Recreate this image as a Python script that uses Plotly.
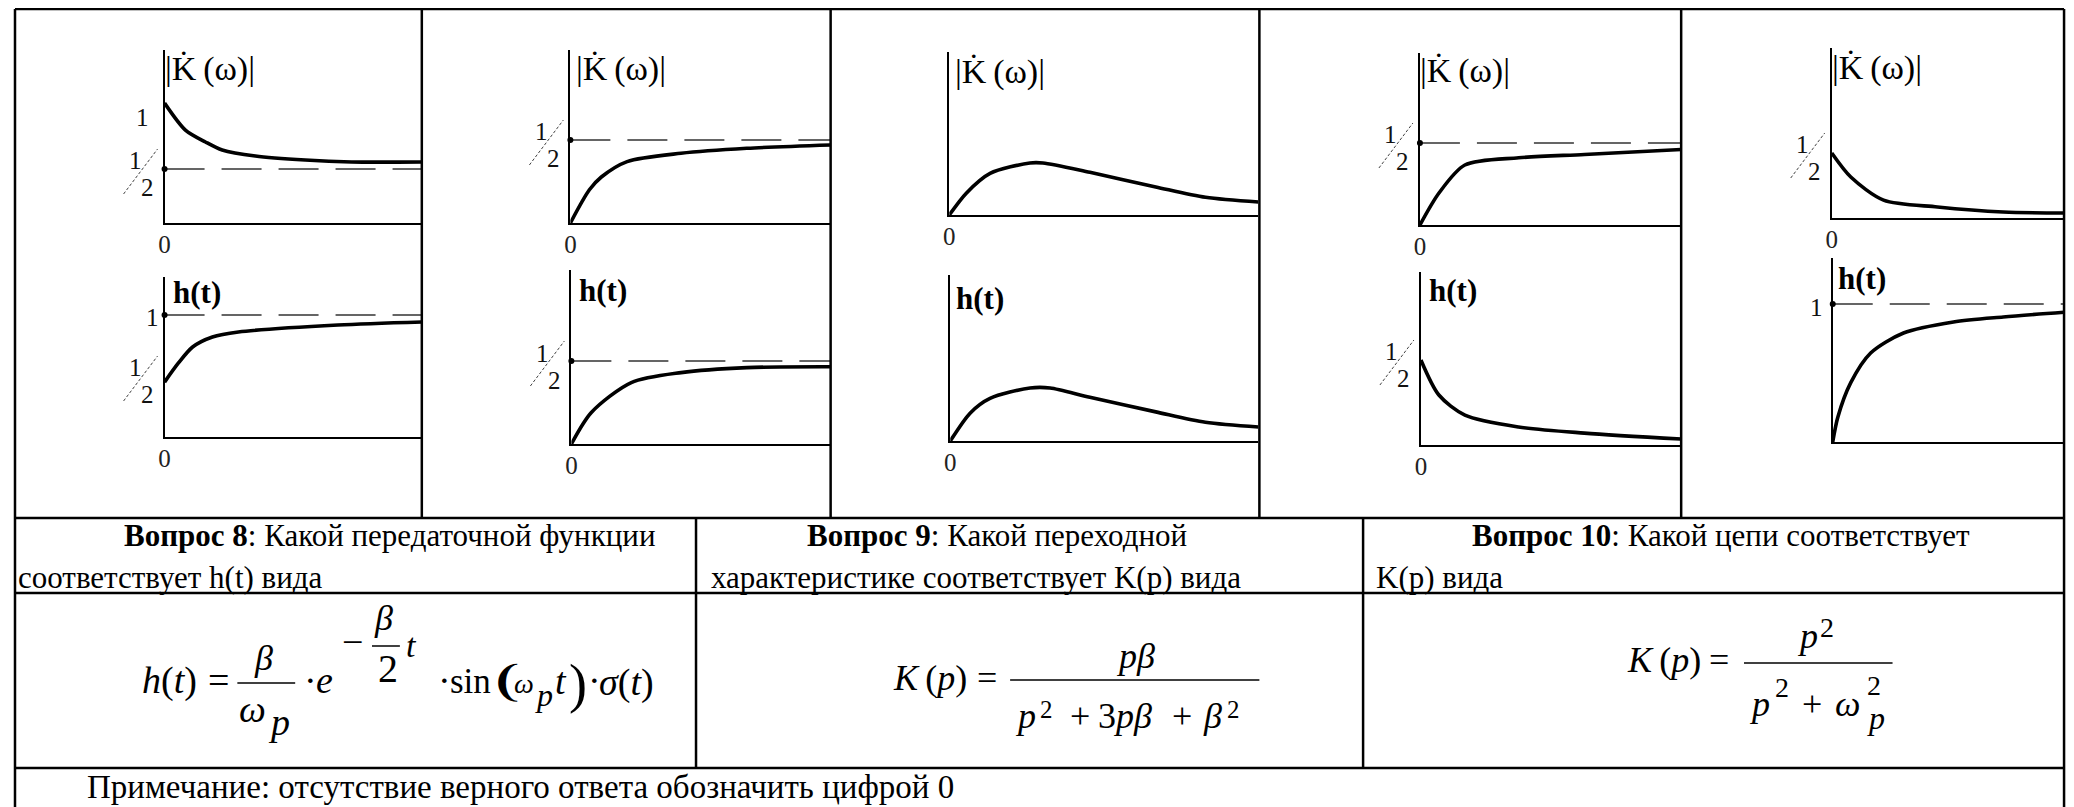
import plotly.graph_objects as go

W, H = 2074, 807
OFF = 8  # the page body margin shifts the figure by 8px right and down
SERIF = "Liberation Serif, Times New Roman, serif"

# curves: x as share of the axis length, y in axis units
k1_x = [0, 0.081, 0.159, 0.224, 0.353, 0.547, 0.727, 1.0]
k1_y = [1.11, 0.86, 0.75, 0.676, 0.62, 0.583, 0.565, 0.565]
h1_x = [0, 0.054, 0.109, 0.186, 0.287, 0.674, 1.0]
h1_y = [0.45, 0.607, 0.738, 0.82, 0.861, 0.918, 0.943]
k2_x = [0, 0.073, 0.119, 0.218, 0.425, 0.678, 1.0]
k2_y = [0, 0.2, 0.277, 0.37, 0.42, 0.45, 0.47]
h2_x = [0, 0.077, 0.231, 0.423, 0.677, 1.0]
h2_y = [0, 0.19, 0.37, 0.43, 0.46, 0.465]
k3_x = [0, 0.055, 0.132, 0.261, 0.303, 0.455, 0.668, 0.829, 1.0]
k3_y = [0, 0.21, 0.40, 0.5, 0.5, 0.41, 0.27, 0.17, 0.125]
h3_x = [0, 0.065, 0.129, 0.259, 0.324, 0.453, 0.667, 0.828, 1.0]
h3_y = [0, 0.27, 0.41, 0.51, 0.51, 0.42, 0.28, 0.18, 0.135]
k4_x = [0, 0.073, 0.172, 0.378, 0.63, 1.0]
k4_y = [0, 0.195, 0.366, 0.41, 0.43, 0.46]
h4_x = [0, 0.069, 0.169, 0.375, 0.628, 1.0]
h4_y = [0.5, 0.294, 0.176, 0.106, 0.07, 0.035]
k5_x = [0, 0.082, 0.223, 0.455, 0.738, 1.0]
k5_y = [0.5, 0.315, 0.138, 0.085, 0.046, 0.038]
h5_x = [0, 0.022, 0.078, 0.164, 0.306, 0.522, 0.737, 1.0]
h5_y = [0, 0.18, 0.43, 0.645, 0.79, 0.87, 0.906, 0.94]

K_TITLE = "|K\u0307\u2009(ω)|"
H_TITLE = "<b>h(t)</b>"

# panel placement in pixels: axis origin x0, right end x1, x-axis y, axis top, px per unit
panels = [
    dict(x=k1_x, y=k1_y, x0=159, x1=417, yb=223, yt=50, unit=108, dash=0.5, half=0.5,
         one=(-22, -3), zero=True, title=K_TITLE, tx=157, ty=69),
    dict(x=h1_x, y=h1_y, x0=159, x1=417, yb=437, yt=277, unit=122, dash=1, half=0.5,
         one=(-12, -3), zero=True, title=H_TITLE, tx=165, ty=292),
    dict(x=k2_x, y=k2_y, x0=566, x1=827, yb=223, yt=50, unit=166, dash=0.5, half=0.5,
         one=None, zero=True, title=K_TITLE, tx=570, ty=69),
    dict(x=h2_x, y=h2_y, x0=567, x1=827, yb=444, yt=270, unit=166, dash=0.5, half=0.5,
         one=None, zero=True, title=H_TITLE, tx=573, ty=290),
    dict(x=k3_x, y=k3_y, x0=946, x1=1256, yb=215, yt=52, unit=104, dash=None, half=None,
         one=None, zero=True, title=K_TITLE, tx=950, ty=72),
    dict(x=h3_x, y=h3_y, x0=947, x1=1256, yb=441, yt=275, unit=104, dash=None, half=None,
         one=None, zero=True, title=H_TITLE, tx=951, ty=298),
    dict(x=k4_x, y=k4_y, x0=1418, x1=1680, yb=225, yt=53, unit=164, dash=0.5, half=0.5,
         one=None, zero=True, title=K_TITLE, tx=1416, ty=71),
    dict(x=h4_x, y=h4_y, x0=1419, x1=1680, yb=445, yt=272, unit=170, dash=None, half=0.5,
         one=None, zero=True, title=H_TITLE, tx=1425, ty=290),
    dict(x=k5_x, y=k5_y, x0=1831, x1=2064, yb=218, yt=48, unit=130, dash=None, half=0.5,
         one=None, zero=True, title=K_TITLE, tx=1829, ty=68),
    dict(x=h5_x, y=h5_y, x0=1832, x1=2064, yb=442, yt=258, unit=138, dash=1, half=None,
         one=(-16, -3), zero=False, title=H_TITLE, tx=1835, ty=278),
]


def px(x):
    return (x - OFF) / W


def py(y):
    return 1 - (y - OFF) / H


fig = go.Figure()


def txt(s, x, base, size, family=SERIF, anchor="left", color="black"):
    # place text by its left edge and baseline, in pixels from the top-left corner
    fig.add_annotation(text=s, x=px(x), y=py(base - 0.34 * size), xref="paper", yref="paper",
                       xanchor=anchor, yanchor="middle", showarrow=False, borderpad=0,
                       font=dict(family=family, size=size, color=color))


def line(xa, ya, xb, yb, width=2.5):
    fig.add_shape(type="line", xref="paper", yref="paper", x0=px(xa), x1=px(xb),
                  y0=py(ya), y1=py(yb), line=dict(color="black", width=width))


for i, p in enumerate(panels):
    n = "" if i == 0 else str(i + 1)
    xa, ya = "x" + n, "y" + n
    ymax = (p["yb"] - p["yt"]) / p["unit"]
    fig.update_layout({
        "xaxis" + n: dict(domain=[px(p["x0"]), px(p["x1"])], range=[0, 1], anchor=ya,
                          showline=True, linecolor="black", linewidth=1.6, showgrid=False,
                          zeroline=False, ticks="", tickmode="array", tickvals=[0], ticktext=["0"],
                          showticklabels=p["zero"], ticklabelstandoff=-2,
                          tickfont=dict(family=SERIF, size=25, color="#222"), fixedrange=True),
        "yaxis" + n: dict(domain=[py(p["yb"]), py(p["yt"])], range=[0, ymax], anchor=xa,
                          showline=True, linecolor="black", linewidth=1.6, showgrid=False,
                          zeroline=False, showticklabels=False, ticks="", fixedrange=True),
    })
    if p["dash"] is not None:
        fig.add_trace(go.Scatter(x=[0, 1], y=[p["dash"], p["dash"]], xaxis=xa, yaxis=ya, mode="lines",
                                 line=dict(color="#333", width=1.5, dash="40px,17px")))
        fig.add_trace(go.Scatter(x=[0], y=[p["dash"]], xaxis=xa, yaxis=ya, mode="markers",
                                 marker=dict(color="black", size=6), cliponaxis=False))
    fig.add_trace(go.Scatter(x=p["x"], y=p["y"], xaxis=xa, yaxis=ya, mode="lines",
                             line=dict(color="black", width=3.6, shape="spline", smoothing=0.8)))

    # axis labels
    if p["half"] is not None:
        for s, dx, dy in (("1", -29, 8), ("2", -17, -19)):
            fig.add_annotation(text=s, x=px(p["x0"]), y=p["half"], xref="paper", yref=ya,
                               xshift=dx, yshift=dy, showarrow=False, xanchor="center", yanchor="middle",
                               font=dict(family=SERIF, size=25, color="#111"))
        fig.add_shape(type="line", xref="paper", yref=ya, xsizemode="pixel", ysizemode="pixel",
                      xanchor=px(p["x0"]), yanchor=p["half"], x0=-41, x1=-7, y0=-25, y1=20,
                      line=dict(color="#444", width=1, dash="3px,2px"))
    if p["one"] is not None:
        fig.add_annotation(text="1", x=px(p["x0"]), y=1, xref="paper", yref=ya,
                           xshift=p["one"][0], yshift=p["one"][1], showarrow=False,
                           xanchor="center", yanchor="middle",
                           font=dict(family=SERIF, size=25, color="#111"))
    size = 34 if p["title"] == K_TITLE else 31
    fig.add_annotation(text=p["title"], x=px(p["tx"]), y=py(p["ty"]), xref="paper", yref="paper",
                       xanchor="left", yanchor="middle", showarrow=False,
                       font=dict(family=SERIF, size=size, color="black"))

# table rules (the page margin hides anything above y=8 or left of x=8)
line(9, 9, 2064, 9)
line(9, 9, 9, 807)
line(2064, 9, 2064, 807)
for y in (518, 593, 768):
    line(9, y, 2064, y)
for x in (417, 827, 1257, 1680):
    line(x, 9, x, 518)
for x in (692, 1361):
    line(x, 518, x, 768)

# question row
QS = 31
txt("<b>Вопрос 8</b>: Какой передаточной функции", 117, 546, QS)
txt("соответствует h(t) вида", 11, 588, QS)
txt("<b>Вопрос 9</b>: Какой переходной", 802, 546, QS)
txt("характеристике соответствует K(p) вида", 706, 588, QS)
txt("<b>Вопрос 10</b>: Какой цепи соответствует", 1469, 546, QS)
txt("K(p) вида", 1373, 588, QS)
txt("Примечание: отсутствие верного ответа обозначить цифрой 0", 80, 798, 33)

# formula 1: h(t) = beta/omega_p * e^(-beta/2 t) * sin(omega_p t) * sigma(t)
F = 38
txt("<i>h</i>(<i>t</i>)", 135, 693, F)
txt("=", 202, 693, F)
line(232, 683, 290, 683, 1.5)
txt("<i>β</i>", 248, 670, 36)
txt("<i>ω</i>", 233, 722, F)
txt("<i>p</i>", 262, 735, F)
txt("·", 298, 693, F)
txt("<i>e</i>", 310, 693, F)
txt("−", 336, 655, F)
txt("<i>β</i>", 368, 630, 36)
line(367, 646, 395, 646, 1.5)
txt("2", 372, 682, 40)
txt("<i>t</i>", 400, 657, 34)
txt("·", 432, 693, F)
txt("sin", 444, 693, 35)
txt("❨", 484, 696, 42, family="DejaVu Sans")
txt("<i>ω</i>", 508, 693, 28)
txt("<i>p</i>", 530, 706, 32)
txt("<i>t</i>", 550, 694, F)
txt(")", 564, 702, 54)
txt("·", 583, 693, F)
txt("<i>σ</i>(<i>t</i>)", 594, 695, F)

# formula 2: K(p) = p beta / (p^2 + 3 p beta + beta^2)
F2 = 36
txt("<i>K</i>\u2009(<i>p</i>)", 889, 690, F2)
txt("=", 973, 690, F2)
line(1007, 680, 1257, 680, 1.5)
txt("<i>pβ</i>", 1112, 668, F2)
txt("<i>p</i>", 1011, 728, F2)
txt("2", 1036, 718, 25)
txt("+", 1066, 728, F2)
txt("3<i>pβ</i>", 1094, 728, F2)
txt("+", 1168, 728, F2)
txt("<i>β</i>", 1199, 728, F2)
txt("2", 1224, 718, 25)

# formula 3: K(p) = p^2 / (p^2 + omega_p^2)
txt("<i>K</i>\u2009(<i>p</i>)", 1625, 672, F2)
txt("=", 1707, 672, F2)
line(1743, 663, 1892, 663, 1.5)
txt("<i>p</i>", 1795, 648, F2)
txt("2", 1818, 637, 28)
txt("<i>p</i>", 1747, 716, F2)
txt("2", 1773, 697, 28)
txt("+", 1800, 716, F2)
txt("<i>ω</i>", 1833, 716, F2)
txt("2", 1865, 695, 28)
txt("<i>p</i>", 1865, 729, 32)

fig.update_layout(width=W, height=H, margin=dict(l=0, r=0, t=0, b=0), showlegend=False,
                  paper_bgcolor="white", plot_bgcolor="white")
fig.write_html("out.html")
